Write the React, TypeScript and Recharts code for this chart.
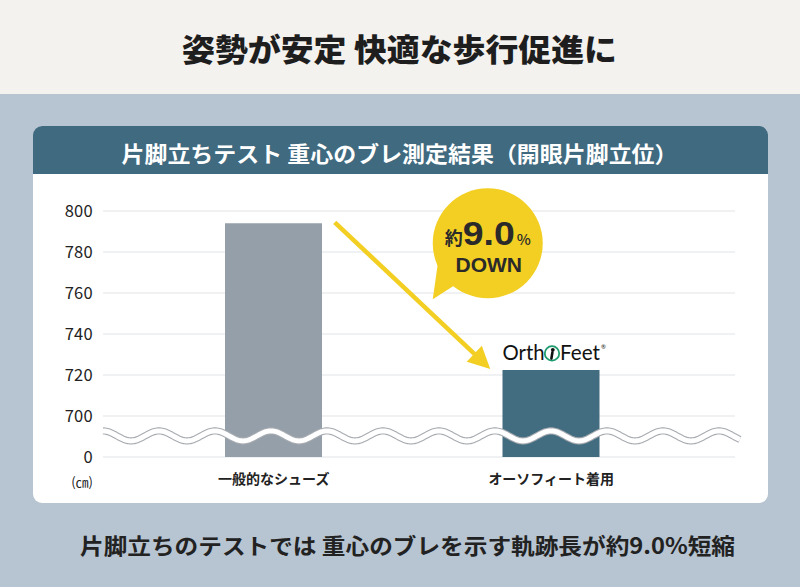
import React from 'react';
import {
  BarChart,
  Bar,
  XAxis,
  YAxis,
  CartesianGrid,
  Cell,
  LabelList,
  ReferenceLine,
} from 'recharts';

// ---------- data ----------
const categories = ['一般的なシューズ', 'オーソフィート着用'];
const values = [794, 722.5];
const logos = ['', 'OrthoFeet'];
const tickLabels = [0, 700, 720, 740, 760, 780, 800];
const barColors = ['#949faa', '#426c80'];
const pageTitle = '姿勢が安定 快適な歩行促進に';
const cardTitle = '片脚立ちテスト 重心のブレ測定結果（開眼片脚立位）';
const footerText = '片脚立ちのテストでは 重心のブレを示す軌跡長が約9.0%短縮';
const unitLabel = '(㎝)';

// broken axis: 0 is kept, the range 700..800 is shown above it
const BREAK_BASE = 680;
const toAxis = (v: number) => (v <= 0 ? 0 : v - BREAK_BASE);
const fromAxis = (a: number) => (a <= 0 ? 0 : a + BREAK_BASE);
const WAVE_LEVEL = 10.3;

const data = categories.map((name, i) => ({
  name,
  value: toAxis(values[i]),
  raw: values[i],
  logo: logos[i],
}));

const JP = '"Noto Sans CJK JP", "Noto Sans", sans-serif';
const YELLOW = '#f2cf22';

const WaveShape = (props: any) => {
  const { x1, x2, y1 } = props;
  if (x1 == null || y1 == null) return null;
  const P = 56;
  const A = 5;
  const end = x2 + 5;
  let d = '';
  for (let x = x1; x <= end; x += 1) {
    const y = y1 - A * Math.cos((2 * Math.PI * (x - x1)) / P);
    d += (x === x1 ? 'M' : 'L') + x.toFixed(1) + ',' + y.toFixed(2);
  }
  return (
    <g>
      <path d={d} stroke="#a7abb0" strokeWidth={7.2} fill="none" />
      <path d={d} stroke="#ffffff" strokeWidth={5} fill="none" />
    </g>
  );
};

const ArrowShape = (props: any) => {
  const { x1, y1, x2, y2 } = props;
  if (x1 == null) return null;
  const sx = x1 + 61;
  const sy = y1 - 1;
  const ex = x2 - 61;
  const ey = y2 - 1;
  const ang = Math.atan2(ey - sy, ex - sx);
  const c = Math.cos(ang);
  const s = Math.sin(ang);
  const headLen = 22;
  const headW = 11;
  const bx = ex - headLen * c;
  const by = ey - headLen * s;
  const cx = sx + 153;
  const cy = sy + 21;
  const r = 55;
  const a1 = (125 * Math.PI) / 180;
  const a2 = (160 * Math.PI) / 180;
  return (
    <g>
      <line x1={sx} y1={sy} x2={bx + 2 * c} y2={by + 2 * s} stroke={YELLOW} strokeWidth={4.5} />
      <polygon
        points={`${ex},${ey} ${bx + headW * s},${by - headW * c} ${bx - headW * s},${by + headW * c}`}
        fill={YELLOW}
      />
      <circle cx={cx} cy={cy} r={r} fill={YELLOW} />
      <polygon
        points={`${cx + r * Math.cos(a1)},${cy + r * Math.sin(a1) - 4} ${cx - 55},${cy + 56} ${cx + r * Math.cos(a2) + 2},${cy + r * Math.sin(a2)}`}
        fill={YELLOW}
      />
      <text x={cx - 43} y={cy + 2} fontFamily={JP} fontWeight={700} fontSize={18} fill="#2a2a2a">
        約
      </text>
      <text
        x={cx - 25}
        y={cy + 2}
        fontFamily='"Liberation Sans", Arial, sans-serif'
        fontWeight={700}
        fontSize={33}
        fill="#2a2a2a"
        textLength={52}
        lengthAdjust="spacingAndGlyphs"
      >
        9.0
      </text>
      <text x={cx + 29} y={cy + 2} fontFamily={JP} fontWeight={500} fontSize={15} fill="#2a2a2a">
        %
      </text>
      <text
        x={cx + 1}
        y={cy + 29}
        textAnchor="middle"
        fontFamily='"Liberation Sans", Arial, sans-serif'
        fontWeight={700}
        fontSize={21}
        fill="#2a2a2a"
      >
        DOWN
      </text>
    </g>
  );
};

const LogoLabel = (props: any) => {
  const { x, y, value } = props;
  if (!value) return null;
  const bx = Number(x);
  const by = Number(y);
  const base = by - 9.5;
  const icx = bx + 49.5;
  const icy = by - 16.5;
  return (
    <g>
      <text
        x={bx}
        y={base}
        fontFamily='Lato, "Open Sans", sans-serif'
        fontWeight={400}
        fontSize={21}
        fill="#111111"
        textLength={42}
        lengthAdjust="spacingAndGlyphs"
      >
        Orth
      </text>
      <circle cx={icx} cy={icy} r={7.2} fill="#fff" stroke="#1f9b6d" strokeWidth={1.8} />
      <circle cx={icx + 0.8} cy={icy - 3.6} r={1.9} fill="#111" />
      <path
        d={`M${icx + 0.4},${icy - 1} L${icx - 0.6},${icy + 5.2}`}
        stroke="#111"
        strokeWidth={2.6}
        strokeLinecap="round"
      />
      <text
        x={bx + 57.5}
        y={base}
        fontFamily='Lato, "Open Sans", sans-serif'
        fontWeight={400}
        fontSize={21}
        fill="#111111"
        textLength={40}
        lengthAdjust="spacingAndGlyphs"
      >
        Feet
      </text>
      <text x={bx + 98.5} y={base - 11} fontFamily="Lato, sans-serif" fontSize={6} fill="#151515">
        ®
      </text>
    </g>
  );
};

export default function App() {
  return (
    <div
      style={{
        position: 'absolute',
        left: 0,
        top: 0,
        width: 800,
        height: 587,
        overflow: 'hidden',
        background: '#b7c4d1',
      }}
    >
      <div style={{ position: 'absolute', left: 0, top: 0, width: 800, height: 94, background: '#f4f2ef' }} />
      <div
        style={{
          position: 'absolute',
          left: 33,
          top: 126,
          width: 735,
          height: 377,
          background: '#ffffff',
          borderRadius: 9,
          overflow: 'hidden',
        }}
      >
        <div style={{ height: 48, background: '#3f6a7f' }} />
      </div>
      <svg
        width={800}
        height={587}
        style={{ position: 'absolute', left: 0, top: 0 }}
      >
        <text
          x={399.5}
          y={47}
          textAnchor="middle"
          dominantBaseline="central"
          fontFamily={JP}
          fontWeight={900}
          fontSize={31}
          fill="#1e1e1e"
          textLength={435}
          lengthAdjust="spacingAndGlyphs"
        >
          {pageTitle}
        </text>
        <text
          x={399.5}
          y={151.5}
          textAnchor="middle"
          dominantBaseline="central"
          fontFamily={JP}
          fontWeight={700}
          fontSize={22}
          fill="#ffffff"
          textLength={556}
          lengthAdjust="spacingAndGlyphs"
        >
          {cardTitle}
        </text>
        <text
          x={407.5}
          y={543.5}
          textAnchor="middle"
          dominantBaseline="central"
          fontFamily={JP}
          fontWeight={700}
          fontSize={22}
          fill="#222222"
          textLength={655}
          lengthAdjust="spacingAndGlyphs"
        >
          {footerText}
        </text>
        <text
          x={93}
          y={481}
          textAnchor="end"
          dominantBaseline="central"
          fontFamily={JP}
          fontSize={13}
          fill="#222222"
        >
          {unitLabel}
        </text>
      </svg>
      <div style={{ position: 'absolute', left: 0, top: 0 }}>
        <BarChart
          width={800}
          height={587}
          data={data}
          margin={{ top: 211, right: 65, bottom: 100, left: 0 }}
        >
          <CartesianGrid vertical={false} stroke="#e1e4e8" strokeWidth={1.2} />
          <XAxis
            dataKey="name"
            height={30}
            padding={{ left: 32, right: 45 }}
            axisLine={false}
            tickLine={false}
            tickSize={0}
            tickMargin={17}
            tick={{ fill: '#222222', fontSize: 14, fontWeight: 700, fontFamily: JP }}
          />
          <YAxis
            type="number"
            width={103}
            domain={[0, 120]}
            ticks={tickLabels.map(toAxis)}
            tickFormatter={(v: number) => String(fromAxis(v))}
            axisLine={false}
            tickLine={false}
            tickSize={0}
            tickMargin={10}
            interval={0}
            allowDataOverflow
            tick={{ fill: '#222222', fontSize: 16.5, fontFamily: JP, letterSpacing: 0.3 }}
          />
          <Bar dataKey="value" barSize={97} isAnimationActive={false}>
            {data.map((d, i) => (
              <Cell key={d.name} fill={barColors[i]} />
            ))}
            <LabelList dataKey="logo" content={LogoLabel} />
          </Bar>
          <ReferenceLine
            y={WAVE_LEVEL}
            shape={WaveShape}
            zIndex={600}
            isFront
          />
          <ReferenceLine
            segment={[
              { x: categories[0], y: toAxis(values[0]) },
              { x: categories[1], y: toAxis(values[1]) },
            ]}
            shape={ArrowShape}
            zIndex={700}
            isFront
          />
        </BarChart>
      </div>
    </div>
  );
}
